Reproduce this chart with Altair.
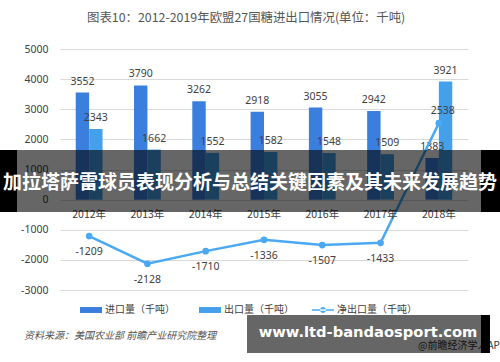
import altair as alt
import pandas as pd

# ---- data ----
years = ["2012年", "2013年", "2014年", "2015年", "2016年", "2017年", "2018年"]
imports = [3552, 3790, 3262, 2918, 3055, 2942, 1383]
exports = [2343, 1662, 1552, 1582, 1548, 1509, 3921]
net = [-1209, -2128, -1710, -1336, -1507, -1433, 2538]
y_ticks = [-3000, -2000, -1000, 0, 1000, 2000, 3000, 4000, 5000]

S_IMP = "进口量（千吨）"
S_EXP = "出口量（千吨）"
S_NET = "净出口量（千吨）"
title_text = "图表10：2012-2019年欧盟27国糖进出口情况(单位：千吨)"
source_text = "资料来源：美国农业部 前瞻产业研究院整理"
credit_text = "@前瞻经济学人APP"
banner_text = "加拉塔萨雷球员表现分析与总结关键因素及其未来发展趋势"
url_text = "www.ltd-bandaosport.com"

C_IMP = "#3a7fde"
C_EXP = "#45a0ec"
C_NET = "#4aa9f2"
CJK = "Noto Sans CJK SC"
NUM = "Noto Sans"
TXT = "#404040"

bars_df = pd.DataFrame({
    "year": years * 2,
    "series": [S_IMP] * len(years) + [S_EXP] * len(years),
    "value": imports + exports,
})
net_df = pd.DataFrame({"year": years, "series": S_NET, "value": net})
year_df = pd.DataFrame({"year": years, "zero": [0] * len(years)})
one = alt.Data(values=[{"k": 1}])

W, H = 408, 241
PL, PT = 60, 49

xscale = alt.Scale(domain=years, paddingInner=0.54, paddingOuter=0.27)
yscale = alt.Scale(domain=[-3000, 5000], nice=False, zero=False)


def X():
    return alt.X("year:N", scale=xscale, axis=None, title=None, sort=years)


def Y(field="value"):
    return alt.Y(f"{field}:Q", scale=yscale, title=None,
                 axis=alt.Axis(values=y_ticks, grid=True, gridColor="#d9d9d9",
                               gridWidth=1, domain=False, ticks=False,
                               labelExpr="'' + datum.value",
                               labelPadding=12, labelFontSize=10.5,
                               labelFont=NUM, labelColor=TXT))


xoff = alt.XOffset("series:N", scale=alt.Scale(domain=[S_IMP, S_EXP], paddingInner=0))

bars = alt.Chart(bars_df).mark_bar().encode(
    x=X(), xOffset=xoff, y=Y(),
    color=alt.Color("series:N",
                    scale=alt.Scale(domain=[S_IMP, S_EXP], range=[C_IMP, C_EXP]),
                    legend=alt.Legend(orient="none", legendX=20, legendY=250,
                                      direction="horizontal", title=None,
                                      symbolType="M-1,-0.27H1V0.27H-1Z",
                                      symbolSize=484, symbolStrokeWidth=0,
                                      labelFont=CJK, labelFontSize=10,
                                      labelColor=TXT, labelOffset=3,
                                      columnPadding=24)),
)

bar_labels = alt.Chart(bars_df).transform_calculate(
    label="'' + datum.value"
).mark_text(
    dy=-11, fontSize=10.5, font=NUM, color=TXT
).encode(x=X(), xOffset=xoff, y=Y(), text="label:N")

line = alt.Chart(net_df).mark_line(strokeWidth=2.5).encode(
    x=X(), y=Y(),
    stroke=alt.Stroke("series:N", scale=alt.Scale(domain=[S_NET], range=[C_NET]),
                      legend=alt.Legend(orient="none", legendX=252, legendY=250,
                                        direction="horizontal", title=None,
                                        symbolType="M-1,-0.07H1V0.07H-1ZM-0.27,0A0.27,0.27,0,1,0,0.27,0A0.27,0.27,0,1,0,-0.27,0Z",
                                        symbolSize=484, symbolStrokeWidth=0,
                                        symbolFillColor=C_NET,
                                        labelFont=CJK, labelFontSize=10,
                                        labelColor=TXT, labelOffset=3)),
)

points = alt.Chart(net_df).mark_circle(size=45, opacity=1, color=C_NET).encode(x=X(), y=Y())

net_lab_neg = alt.Chart(net_df).transform_filter("datum.value < 0").transform_calculate(
    label="'' + datum.value"
).mark_text(
    dy=16, fontSize=10.5, font=NUM, color=TXT
).encode(x=X(), y=Y(), text="label:N")

net_lab_pos = alt.Chart(net_df).transform_filter("datum.value >= 0").transform_calculate(
    label="'' + datum.value"
).mark_text(
    dy=-12, dx=4, fontSize=10.5, font=NUM, color=TXT
).encode(x=X(), y=Y(), text="label:N")

x_labels = alt.Chart(year_df).mark_text(
    dy=15, fontSize=10.5, font=CJK, color=TXT
).encode(x=X(), y=Y("zero"), text="year:N")

source = alt.Chart(one).mark_text(
    align="left", baseline="middle", fontSize=10, font=CJK, fontStyle="italic", color="#555555"
).encode(x=alt.value(24 - PL), y=alt.value(336 - PT), text=alt.value(source_text))

credit = alt.Chart(one).mark_text(
    align="left", baseline="middle", fontSize=10, font=CJK, color="#333333"
).encode(x=alt.value(418 - PL), y=alt.value(346 - PT), text=alt.value(credit_text))


def rect(x1, x2, y1, y2, opacity):
    return alt.Chart(one).mark_rect(color="black", opacity=opacity).encode(
        x=alt.value(x1 - PL), x2=alt.value(x2 - PL),
        y=alt.value(y1 - PT), y2=alt.value(y2 - PT))


mid_bg = rect(17, 481, 150, 212, 0.6)
mid_l = rect(0, 17, 150, 212, 1)
mid_r = rect(481, 500, 150, 212, 1)
mid_txt = alt.Chart(one).mark_text(
    align="center", baseline="middle", fontSize=19, font=CJK, fontWeight="bold", color="white"
).encode(x=alt.value(250 - PL), y=alt.value(183 - PT), text=alt.value(banner_text))

bot_bg = rect(247, 481, 315, 353, 0.6)
bot_r = rect(481, 490, 315, 353, 1)
bot_txt = alt.Chart(one).mark_text(
    align="center", baseline="middle", fontSize=14.7, font="DejaVu Sans", fontWeight="bold", color="white"
).encode(x=alt.value(368 - PL), y=alt.value(333 - PT), text=alt.value(url_text))

chart = alt.layer(
    bars, bar_labels, line, points, net_lab_neg, net_lab_pos, x_labels,
    source, credit, mid_bg, mid_l, mid_r, mid_txt, bot_bg, bot_r, bot_txt
).resolve_scale(color="independent", stroke="independent").properties(
    width=W, height=H,
    autosize=alt.AutoSizeParams(type="none"),
    padding={"left": PL, "top": PT, "right": 500 - PL - W, "bottom": 362 - PT - H},
    background="white",
    title=alt.TitleParams(title_text, anchor="start", frame="group", dx=27, offset=20,
                          fontSize=12.4, font=CJK, fontWeight="normal", color="#555555"),
).configure_view(stroke=None)

chart.save("out.html", embed_options={"renderer": "svg", "actions": False})
